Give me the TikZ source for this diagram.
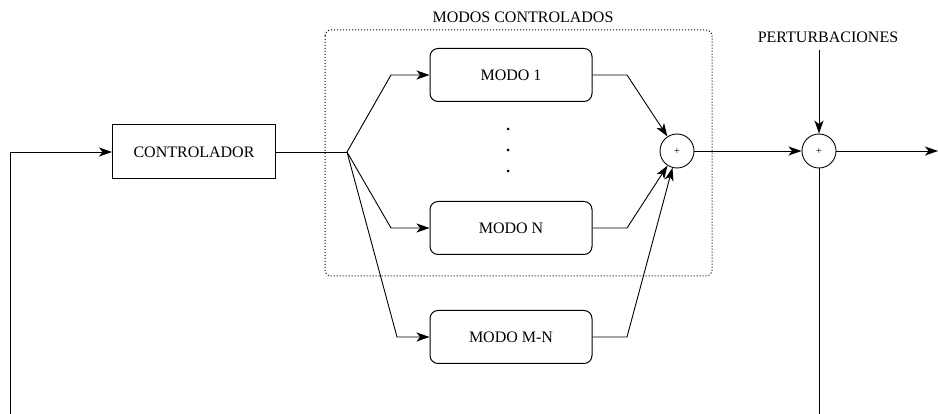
\documentclass[tikz,border=0pt]{standalone}
\usepackage{fontspec}
\setmainfont{Liberation Serif}
\usetikzlibrary{arrows.meta}
\begin{document}
\begin{tikzpicture}[x=1pt,y=-1pt,
  wire/.style={line width=0.9pt, line join=round},
  arr/.style={wire, -{Stealth[length=13pt,width=9pt,inset=3.5pt]}},
  ctrlbox/.style={draw, line width=1pt, minimum width=163pt, minimum height=54pt, inner sep=0pt, font=\fontsize{16}{19}\selectfont},
  modebox/.style={draw, line width=1pt, rounded corners=8pt, minimum width=162pt, minimum height=53pt, inner sep=0pt, font=\fontsize{16}{19}\selectfont},
  sumnode/.style={draw, circle, line width=0.9pt, minimum size=34pt, inner sep=0pt, font=\fontsize{11}{12}\selectfont},
  lbl/.style={font=\fontsize{16}{19}\selectfont, inner sep=0pt}
]
\useasboundingbox (0,0) rectangle (938,414);

% group frame around the controlled modes
\draw[line width=1pt, dash pattern=on 1pt off 2pt, rounded corners=6pt] (325,30) rectangle (712,276);
\node[lbl] (grp) at (523,17) {MODOS CONTROLADOS};

% blocks
\node[ctrlbox] (ctrl) at (194,152) {CONTROLADOR};
\node[modebox] (m1) at (511,75) {MODO 1};
\node[modebox] (mn) at (511,228) {MODO N};
\node[modebox] (mmn) at (511,337) {MODO M-N};
\node[sumnode] (s1) at (677,151) {+};
\node[sumnode] (s2) at (819,151) {+};
\node[lbl] (pert) at (828,37) {PERTURBACIONES};

% ellipsis between the modes
\foreach \yy in {129,150,171} \fill (508,\yy) circle (1.5pt);

% helper points
\coordinate (fb) at (10,414);
\coordinate (split) at (347,152);
\coordinate (out) at (938,151);
\coordinate (pin) at (819,50);
\coordinate (fb2) at (819,414);

% feedback into the controller
\draw[arr] (fb) |- (ctrl.west);
\draw[wire] (ctrl.east) -- (split);

% fan-out to the modes
\draw[arr] (split) -- (391,75) -- (m1.west);
\draw[arr] (split) -- (391,228) -- (mn.west);
\draw[arr] (split) -- (397,337) -- (mmn.west);

% fan-in to the first summing junction
\draw[arr] (m1.east) -- (627,75) -- (s1);
\draw[arr] (mn.east) -- (627,228) -- (s1);
\draw[arr] (mmn.east) -- (627,337) -- (s1);

% disturbance junction and output
\draw[arr] (s1) -- (s2);
\draw[arr] (pin) -- (s2);
\draw[arr] (s2) -- (out);
\draw[wire] (s2) -- (fb2);
\end{tikzpicture}
\end{document}
